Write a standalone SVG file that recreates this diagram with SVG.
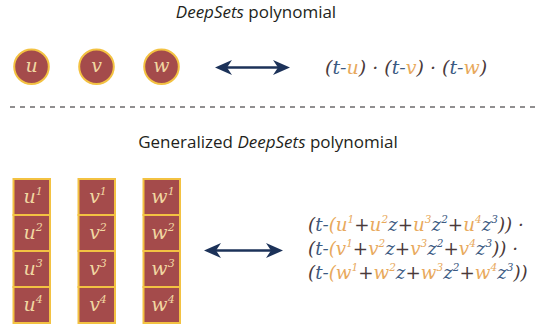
<svg xmlns="http://www.w3.org/2000/svg" width="544" height="329" viewBox="0 0 544 329">
  <style>
    .title { font-family: "Open Sans", "Liberation Sans", sans-serif; font-size: 17px; fill: #231f20; text-anchor: middle; }
    .it { font-style: italic; }
    .node circle, .node rect { fill: #a44b4b; stroke: #f3c242; stroke-width: 2; }
    .lbl { font-family: "DejaVu Serif", serif; font-style: italic; font-size: 19px; fill: #f1d7a2; text-anchor: middle; }
    .lbl .s { font-size: 11px; }
    .math { font-family: "DejaVu Serif", serif; font-style: italic; font-size: 19px; fill: #4a3a3b; }
    .gen { font-size: 18.3px; }
    .k { fill: #4a3a3b; }
    .b { fill: #3c5a82; }
    .o { fill: #e8a95c; }
    .s { font-size: 10.5px; }
    .conn { stroke: #1c3259; stroke-width: 2.5; fill: none; }
    .sep { stroke: #231f20; stroke-width: 1; stroke-dasharray: 5 5; }
  </style>
  <defs>
    <marker id="head" markerUnits="userSpaceOnUse" markerWidth="18" markerHeight="16" refX="13" refY="7.5" orient="auto-start-reverse" viewBox="0 0 18 16">
      <path d="M0,0 L17,7.5 L0,15 L5,7.5 Z" fill="#1c3259"/>
    </marker>
  </defs>

  <!-- headings -->
  <text class="title" x="256" y="18"><tspan class="it">DeepSets</tspan> polynomial</text>
  <text class="title" x="268" y="148">Generalized <tspan class="it">DeepSets</tspan> polynomial</text>

  <!-- separator -->
  <line class="sep" x1="10" y1="107" x2="540" y2="107"/>

  <!-- set elements as single values -->
  <g id="node-u" class="node"><circle cx="31.5" cy="66.7" r="17.3"/><text class="lbl" x="31.5" y="72">u</text></g>
  <g id="node-v" class="node"><circle cx="96.5" cy="66.7" r="17.3"/><text class="lbl" x="96.5" y="72">v</text></g>
  <g id="node-w" class="node"><circle cx="161.5" cy="66.7" r="17.3"/><text class="lbl" x="161.5" y="72">w</text></g>

  <!-- set elements as vectors of four entries -->
  <g id="node-u-vec" class="node">
    <rect x="13.5" y="179" width="36.5" height="36"/>
    <rect x="13.5" y="215" width="36.5" height="36"/>
    <rect x="13.5" y="251" width="36.5" height="36"/>
    <rect x="13.5" y="287" width="36.5" height="36"/>
    <text class="lbl" x="33" y="203">u<tspan class="s" dy="-8">1</tspan></text>
    <text class="lbl" x="33" y="239">u<tspan class="s" dy="-8">2</tspan></text>
    <text class="lbl" x="33" y="275">u<tspan class="s" dy="-8">3</tspan></text>
    <text class="lbl" x="33" y="311">u<tspan class="s" dy="-8">4</tspan></text>
  </g>
  <g id="node-v-vec" class="node">
    <rect x="78.5" y="179" width="36.5" height="36"/>
    <rect x="78.5" y="215" width="36.5" height="36"/>
    <rect x="78.5" y="251" width="36.5" height="36"/>
    <rect x="78.5" y="287" width="36.5" height="36"/>
    <text class="lbl" x="98" y="203">v<tspan class="s" dy="-8">1</tspan></text>
    <text class="lbl" x="98" y="239">v<tspan class="s" dy="-8">2</tspan></text>
    <text class="lbl" x="98" y="275">v<tspan class="s" dy="-8">3</tspan></text>
    <text class="lbl" x="98" y="311">v<tspan class="s" dy="-8">4</tspan></text>
  </g>
  <g id="node-w-vec" class="node">
    <rect x="143.5" y="179" width="36.5" height="36"/>
    <rect x="143.5" y="215" width="36.5" height="36"/>
    <rect x="143.5" y="251" width="36.5" height="36"/>
    <rect x="143.5" y="287" width="36.5" height="36"/>
    <text class="lbl" x="163" y="203">w<tspan class="s" dy="-8">1</tspan></text>
    <text class="lbl" x="163" y="239">w<tspan class="s" dy="-8">2</tspan></text>
    <text class="lbl" x="163" y="275">w<tspan class="s" dy="-8">3</tspan></text>
    <text class="lbl" x="163" y="311">w<tspan class="s" dy="-8">4</tspan></text>
  </g>

  <!-- polynomials -->
  <g id="poly-simple">
    <text class="math" x="325" y="74"><tspan class="k">(</tspan><tspan class="b">t-</tspan><tspan class="o">u</tspan><tspan class="k">) · (</tspan><tspan class="b">t-</tspan><tspan class="o">v</tspan><tspan class="k">) · (</tspan><tspan class="b">t-</tspan><tspan class="o">w</tspan><tspan class="k">)</tspan></text>
  </g>
  <g id="poly-general">
    <text class="math gen" x="308" y="231"><tspan class="k">(</tspan><tspan class="b">t-</tspan><tspan class="o">(u</tspan><tspan class="o s" dy="-8">1</tspan><tspan class="k" dy="8">+</tspan><tspan class="o">u</tspan><tspan class="o s" dy="-8">2</tspan><tspan class="b" dy="8">z</tspan><tspan class="k">+</tspan><tspan class="o">u</tspan><tspan class="o s" dy="-8">3</tspan><tspan class="b" dy="8">z</tspan><tspan class="b s" dy="-8">2</tspan><tspan class="k" dy="8">+</tspan><tspan class="o">u</tspan><tspan class="o s" dy="-8">4</tspan><tspan class="b" dy="8">z</tspan><tspan class="b s" dy="-8">3</tspan><tspan class="k" dy="8">)) ·</tspan></text>
    <text class="math gen" x="308" y="255"><tspan class="k">(</tspan><tspan class="b">t-</tspan><tspan class="o">(v</tspan><tspan class="o s" dy="-8">1</tspan><tspan class="k" dy="8">+</tspan><tspan class="o">v</tspan><tspan class="o s" dy="-8">2</tspan><tspan class="b" dy="8">z</tspan><tspan class="k">+</tspan><tspan class="o">v</tspan><tspan class="o s" dy="-8">3</tspan><tspan class="b" dy="8">z</tspan><tspan class="b s" dy="-8">2</tspan><tspan class="k" dy="8">+</tspan><tspan class="o">v</tspan><tspan class="o s" dy="-8">4</tspan><tspan class="b" dy="8">z</tspan><tspan class="b s" dy="-8">3</tspan><tspan class="k" dy="8">)) ·</tspan></text>
    <text class="math gen" x="308" y="279"><tspan class="k">(</tspan><tspan class="b">t-</tspan><tspan class="o">(w</tspan><tspan class="o s" dy="-8">1</tspan><tspan class="k" dy="8">+</tspan><tspan class="o">w</tspan><tspan class="o s" dy="-8">2</tspan><tspan class="b" dy="8">z</tspan><tspan class="k">+</tspan><tspan class="o">w</tspan><tspan class="o s" dy="-8">3</tspan><tspan class="b" dy="8">z</tspan><tspan class="b s" dy="-8">2</tspan><tspan class="k" dy="8">+</tspan><tspan class="o">w</tspan><tspan class="o s" dy="-8">4</tspan><tspan class="b" dy="8">z</tspan><tspan class="b s" dy="-8">3</tspan><tspan class="k" dy="8">))</tspan></text>
  </g>

  <!-- correspondence arrows -->
  <g id="connectors">
    <line class="conn" x1="219" y1="67.5" x2="286" y2="67.5" marker-start="url(#head)" marker-end="url(#head)"/>
    <line class="conn" x1="208" y1="250.5" x2="279" y2="250.5" marker-start="url(#head)" marker-end="url(#head)"/>
  </g>
</svg>
